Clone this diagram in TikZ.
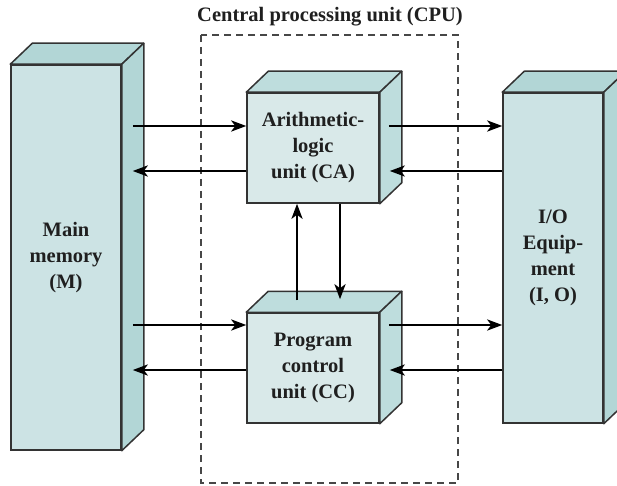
\documentclass[tikz,border=0pt]{standalone}
\usepackage{fontspec}
\setmainfont{Liberation Serif}
\usepackage{tikz}
\usetikzlibrary{arrows.meta}
\usetikzlibrary{positioning}
\definecolor{mfront}{HTML}{CCE3E4}
\definecolor{mside}{HTML}{B2D6D6}
\definecolor{ufront}{HTML}{D9E9E9}
\definecolor{uside}{HTML}{BEDDDD}
\definecolor{edge}{HTML}{333333}
\tikzset{box/.style = {draw = edge, line width = 1.5pt, inner sep = 0, align = center,
    text = black!88, font = \fontsize{20.5}{26}\selectfont\bfseries},
  memcol/.style = {fill = mfront},
  unitcol/.style = {fill = ufront},
  face/.style = {draw = edge, line width = 1.5pt, line join = round},
  arr/.style = {line width = 2.7pt, -{Stealth[length = 15pt, width = 11pt, inset = 4pt]}},
  cpubox/.style = {draw = edge!90, line width = 1.2pt, dash pattern = on 7pt off 5pt}}

\begin{document}
\begin{tikzpicture}[x = 1pt, y = -1pt]
    \clip (0, 0) rectangle (617, 486);

    % CPU frame
    \draw [cpubox] (201, 35) rectangle (458, 483);
    \node [text = black!88] (cpu) at (330, 17) {\fontsize{20.5}{26}\selectfont\bfseries Central processing unit (CPU)};

    % front faces
    \node [box, memcol, minimum width = 110, minimum height = 385] (mem) at (66, 257.5) {Main\\memory\\(M)};
    \node [box, unitcol, minimum width = 132, minimum height = 110] (alu) at (313, 148) {Arithmetic-\\logic\\unit (CA)};
    \node [box, unitcol, minimum width = 132, minimum height = 110] (pcu) at (313, 368) {Program\\control\\unit (CC)};
    \node [box, memcol, minimum width = 100, minimum height = 330] (io) at (553, 258) {I/O\\Equip-\\ment\\(I, O)};

    % top and side faces
    \foreach \n/\c in {mem/mside, alu/uside, pcu/uside, io/mside} {
      \draw [face, fill = \c] (\n.north west) -- ([shift = {(22, -21)}]\n.north west)
        -- ([shift = {(22, -21)}]\n.north east) -- (\n.north east) -- cycle;
      \draw [face, fill = \c] (\n.north east) -- ([shift = {(22, -21)}]\n.north east)
        -- ([shift = {(22, -21)}]\n.south east) -- (\n.south east) -- cycle;
    }

    % rows of the connectors
    \coordinate (ra) at (0, 126);
    \coordinate (rb) at (0, 171);
    \coordinate (rc) at (0, 325);
    \coordinate (rd) at (0, 370);

    \draw [arr, shorten <= 11pt] (mem.east |- ra) -- (alu.west |- ra);
    \draw [arr, shorten >= 11pt] (alu.west |- rb) -- (mem.east |- rb);
    \draw [arr, shorten <= 9pt] (alu.east |- ra) -- (io.west |- ra);
    \draw [arr, shorten >= 10pt] (io.west |- rb) -- (alu.east |- rb);

    \draw [arr, shorten <= 11pt] (mem.east |- rc) -- (pcu.west |- rc);
    \draw [arr, shorten >= 11pt] (pcu.west |- rd) -- (mem.east |- rd);
    \draw [arr, shorten <= 9pt] (pcu.east |- rc) -- (io.west |- rc);
    \draw [arr, shorten >= 10pt] (io.west |- rd) -- (pcu.east |- rd);

    \draw [arr, shorten <= 12pt] ([xshift = -16]pcu.north) -- ([xshift = -16]alu.south);
    \draw [arr, shorten >= 13pt] ([xshift = 27]alu.south) -- ([xshift = 27]pcu.north);

  \end{tikzpicture}
\end{document}
